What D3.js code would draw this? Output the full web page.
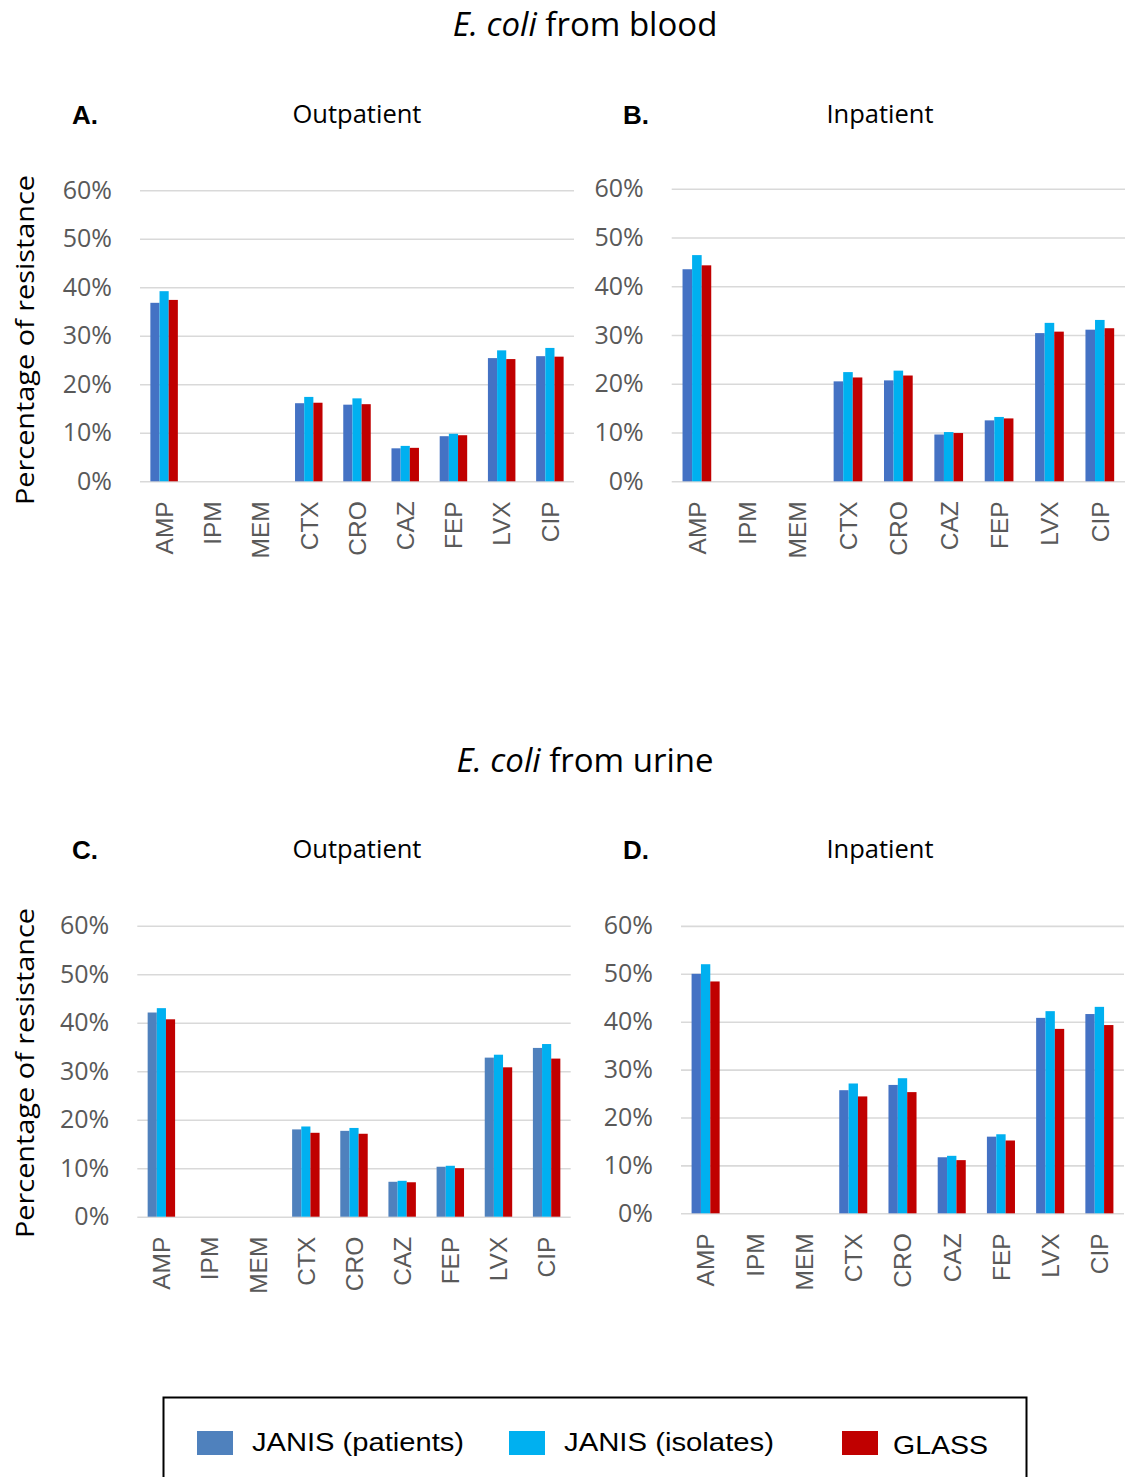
<!DOCTYPE html>
<html>
<head>
<meta charset="utf-8">
<script src="https://cdn.jsdelivr.net/npm/d3@7"></script>
<style>
  html, body { margin: 0; padding: 0; background: #ffffff; }
  svg { display: block; }
</style>
</head>
<body>
<script>
// Antibiotic agents on the x axis
const categories = ["AMP", "IPM", "MEM", "CTX", "CRO", "CAZ", "FEP", "LVX", "CIP"];
const seriesNames = ["JANIS (patients)", "JANIS (isolates)", "GLASS"];
const yTicks = [0, 10, 20, 30, 40, 50, 60];

// Percentage of resistance, E. coli from blood
const bloodOutPatients = [36.8, 0, 0, 16.1, 15.8, 6.8, 9.3, 25.4, 25.8];
const bloodOutIsolates = [39.2, 0, 0, 17.4, 17.1, 7.3, 9.8, 27.0, 27.5];
const bloodOutGlass    = [37.4, 0, 0, 16.2, 15.9, 6.9, 9.5, 25.2, 25.7];

const bloodInPatients  = [43.5, 0, 0, 20.5, 20.7, 9.6, 12.5, 30.4, 31.1];
const bloodInIsolates  = [46.4, 0, 0, 22.4, 22.7, 10.1, 13.2, 32.5, 33.1];
const bloodInGlass     = [44.3, 0, 0, 21.3, 21.7, 9.9, 12.9, 30.7, 31.4];

// Percentage of resistance, E. coli from urine
const urineOutPatients = [42.1, 0, 0, 18.0, 17.7, 7.2, 10.3, 32.8, 34.8];
const urineOutIsolates = [43.0, 0, 0, 18.6, 18.3, 7.4, 10.5, 33.4, 35.6];
const urineOutGlass    = [40.7, 0, 0, 17.3, 17.1, 7.1, 10.0, 30.8, 32.6];

const urineInPatients  = [50.0, 0, 0, 25.7, 26.8, 11.7, 16.0, 40.8, 41.6];
const urineInIsolates  = [52.0, 0, 0, 27.1, 28.2, 12.0, 16.5, 42.2, 43.1];
const urineInGlass     = [48.4, 0, 0, 24.4, 25.3, 11.1, 15.2, 38.5, 39.3];

const W = 1131, H = 1477;
const svg = d3.select("body").append("svg")
  .attr("width", W).attr("height", H)
  .attr("viewBox", `0 0 ${W} ${H}`);

const serifless = "'Open Sans', 'Noto Sans', sans-serif";
const helv = "'Liberation Sans', Arial, sans-serif";
const tickGrey = "#595959";

const panels = [
  { letter: "A.", title: "Outpatient", x0: 140, x1: 574, yBase: 481.3, yTop: 190.3,
    letterX: 72, headY: 124, titleX: 357,
    colors: ["#4472C4", "#00B0F0", "#C00000"],
    values: [bloodOutPatients, bloodOutIsolates, bloodOutGlass] },
  { letter: "B.", title: "Inpatient", x0: 671.7, x1: 1125, yBase: 481.3, yTop: 188.8,
    letterX: 623, headY: 124, titleX: 880,
    colors: ["#4472C4", "#00B0F0", "#C00000"],
    values: [bloodInPatients, bloodInIsolates, bloodInGlass] },
  { letter: "C.", title: "Outpatient", x0: 137.3, x1: 570.7, yBase: 1216.7, yTop: 925.7,
    letterX: 72, headY: 859, titleX: 357,
    colors: ["#4F81BD", "#00B0F0", "#C00000"],
    values: [urineOutPatients, urineOutIsolates, urineOutGlass] },
  { letter: "D.", title: "Inpatient", x0: 681, x1: 1124, yBase: 1213.3, yTop: 925.9,
    letterX: 623, headY: 859, titleX: 880,
    colors: ["#4472C4", "#00B0F0", "#C00000"],
    values: [urineInPatients, urineInIsolates, urineInGlass] }
];

function drawPanel(p) {
  const g = svg.append("g");
  const x = d3.scaleBand().domain(categories).range([p.x0, p.x1])
    .paddingInner(0.43).paddingOuter(0.215);
  const xs = d3.scaleBand().domain(seriesNames).range([0, x.bandwidth()]);
  const y = d3.scaleLinear().domain([0, 60]).range([p.yBase, p.yTop]);

  // horizontal gridlines + percentage tick labels
  const yAxis = g.append("g")
    .attr("transform", `translate(${p.x0},0)`)
    .call(d3.axisLeft(y).tickValues(yTicks).tickSize(-(p.x1 - p.x0))
      .tickPadding(28).tickFormat(d => d + "%"));
  yAxis.select(".domain").remove();
  yAxis.selectAll(".tick line").attr("stroke", "#D9D9D9").attr("stroke-width", 1.6);
  yAxis.selectAll(".tick text")
    .attr("fill", tickGrey)
    .style("font-family", serifless)
    .style("font-size", "25px");

  // grouped bars
  seriesNames.forEach((s, si) => {
    g.append("g").selectAll("rect")
      .data(categories.map((c, i) => ({ c, v: p.values[si][i] })))
      .join("rect")
      .attr("x", d => x(d.c) + xs(s))
      .attr("y", d => y(d.v))
      .attr("width", xs.bandwidth())
      .attr("height", d => y(0) - y(d.v))
      .attr("fill", p.colors[si]);
  });

  // rotated category labels
  const xAxis = g.append("g")
    .attr("transform", `translate(0,${p.yBase})`)
    .call(d3.axisBottom(x).tickSize(0));
  xAxis.select(".domain").remove();
  xAxis.selectAll(".tick text")
    .attr("transform", "rotate(-90)")
    .attr("x", -20).attr("y", 0).attr("dy", "0.36em")
    .attr("text-anchor", "end")
    .attr("fill", tickGrey)
    .style("font-family", helv)
    .style("font-size", "24.5px");

  // panel letter and heading
  g.append("text")
    .attr("x", p.letterX).attr("y", p.headY)
    .style("font-family", helv).style("font-weight", "bold").style("font-size", "26px")
    .attr("fill", "#000")
    .text(p.letter);
  g.append("text")
    .attr("x", p.titleX).attr("y", p.headY - 1)
    .attr("text-anchor", "middle")
    .style("font-family", serifless).style("font-size", "25.5px")
    .attr("fill", "#000")
    .text(p.title);
}

panels.forEach(drawPanel);

// section titles
function sectionTitle(yPos, rest) {
  const t = svg.append("text")
    .attr("x", 585).attr("y", yPos)
    .attr("text-anchor", "middle")
    .style("font-family", serifless).style("font-size", "33px")
    .attr("fill", "#000");
  t.append("tspan").style("font-style", "italic").text("E. coli");
  t.append("tspan").text(" " + rest);
}
sectionTitle(36, "from blood");
sectionTitle(772, "from urine");

// y axis titles
[{ cy: 340 }, { cy: 1073 }].forEach(a => {
  svg.append("text")
    .attr("transform", `translate(34,${a.cy}) rotate(-90)`)
    .attr("text-anchor", "middle")
    .style("font-family", serifless).style("font-size", "26px")
    .attr("textLength", 330).attr("lengthAdjust", "spacingAndGlyphs")
    .attr("fill", "#000")
    .text("Percentage of resistance");
});

// legend
const legendColors = ["#4F81BD", "#00B0F0", "#C00000"];
const legendSwatchX = [197, 509, 842];
const legendTextX = [252, 564, 893];
const legendTextW = [212, 210, 95];
const legendBaseline = [1451, 1451, 1454];

svg.append("rect")
  .attr("x", 163.5).attr("y", 1397.5)
  .attr("width", 863).attr("height", 120)
  .attr("fill", "none").attr("stroke", "#000").attr("stroke-width", 2);

const leg = svg.append("g").selectAll("g")
  .data(seriesNames.map((s, i) => ({ s, i })))
  .join("g");
leg.append("rect")
  .attr("x", d => legendSwatchX[d.i]).attr("y", 1431)
  .attr("width", 36).attr("height", 24)
  .attr("fill", d => legendColors[d.i]);
leg.append("text")
  .attr("x", d => legendTextX[d.i]).attr("y", d => legendBaseline[d.i])
  .attr("textLength", d => legendTextW[d.i]).attr("lengthAdjust", "spacingAndGlyphs")
  .style("font-family", helv).style("font-size", "25px")
  .attr("fill", "#000")
  .text(d => d.s);
</script>
</body>
</html>
